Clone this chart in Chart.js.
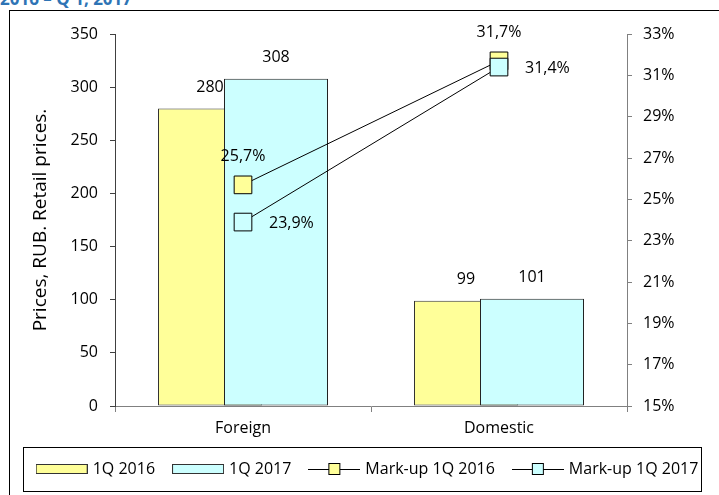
<!DOCTYPE html>
<html>
<head>
<meta charset="utf-8">
<script src="https://cdn.jsdelivr.net/npm/chart.js@4/dist/chart.umd.min.js"></script>
<style>
  body { margin: 0; width: 719px; height: 495px; overflow: hidden; background: #fff; }
  #title { position: absolute; left: 0; top: -11px; font: bold 17px 'Open Sans'; line-height: 20px; color: #2e74b5; white-space: nowrap; }
  #frame { position: absolute; left: 9px; top: 10px; width: 760px; height: 520px; border: 1px solid #000; }
  #wrap { position: absolute; left: 0; top: 0; width: 719px; height: 495px; }
</style>
</head>
<body>
<div id="title">2016 – Q 1, 2017</div>
<div id="frame"></div>
<div id="wrap"><canvas id="chart"></canvas></div>
<script>
const categories = ['Foreign', 'Domestic'];
const prices2016 = [280, 99];
const prices2017 = [308, 101];
const markup2016 = [25.7, 31.7];
const markup2017 = [23.9, 31.4];

const priceMin = 0, priceMax = 350, priceStep = 50;
const markupMin = 15, markupMax = 33, markupStep = 2;

const yellow = '#ffff99';
const cyan = '#ccffff';

Chart.defaults.font.family = "'Open Sans'";
Chart.defaults.font.size = 16;
Chart.defaults.color = '#000';

// legend pictures
function barSymbol(fill) {
    let c = document.createElement('canvas');
    c.width = 52; c.height = 10;
    let ctx = c.getContext('2d');
    ctx.fillStyle = fill;
    ctx.fillRect(0.5, 0.5, 51, 9);
    ctx.strokeStyle = '#333';
    ctx.lineWidth = 1;
    ctx.strokeRect(0.5, 0.5, 51, 9);
    return c;
}

function lineSymbol(fill) {
    let c = document.createElement('canvas');
    c.width = 52; c.height = 14;
    let ctx = c.getContext('2d');
    ctx.strokeStyle = '#000';
    ctx.lineWidth = 1;
    ctx.beginPath();
    ctx.moveTo(0, 7.5);
    ctx.lineTo(52, 7.5);
    ctx.stroke();
    ctx.fillStyle = fill;
    ctx.fillRect(20.5, 1.5, 11, 11);
    ctx.strokeRect(20.5, 1.5, 11, 11);
    return c;
}

const symbols = [barSymbol(yellow), barSymbol(cyan), lineSymbol(yellow), lineSymbol(cyan)];

// draw yellow bars under cyan bars while keeping yellow on the left
const barOrder = {
    id: 'barOrder',
    beforeDatasetDraw(chart, args) {
        if (args.index === 0) return false;
        if (args.index === 1) chart.getDatasetMeta(0).controller.draw();
    }
};

const valueLabels = {
    id: 'valueLabels',
    afterDatasetsDraw(chart) {
        let ctx = chart.ctx;
        ctx.save();
        ctx.font = "16px 'Open Sans'";
        ctx.fillStyle = '#000';
        ctx.textBaseline = 'middle';
        chart.data.datasets.forEach((ds, i) => {
            let meta = chart.getDatasetMeta(i);
            meta.data.forEach((el, j) => {
                let v = ds.data[j];
                let text = ds.type === 'line' ? v.toFixed(1).replace('.', ',') + '%' : String(v);
                if (ds.labelPos === 'right') {
                    ctx.textAlign = 'left';
                    ctx.fillText(text, el.x + 26, el.y + 1);
                } else if (ds.type === 'line') {
                    ctx.textAlign = 'center';
                    ctx.fillText(text, el.x, el.y - 28);
                } else {
                    ctx.textAlign = 'center';
                    ctx.fillText(text, el.x, el.y - 21);
                }
            });
        });
        ctx.restore();
    }
};

const legendBox = {
    id: 'legendBox',
    afterDraw(chart) {
        let boxes = chart.legend.legendHitBoxes;
        if (!boxes.length) return;
        let cy = boxes[0].top + boxes[0].height / 2;
        let ctx = chart.ctx;
        ctx.save();
        ctx.strokeStyle = '#000';
        ctx.lineWidth = 1;
        ctx.strokeRect(23.5, Math.round(cy) - 21.5, 678, 44);
        ctx.restore();
    }
};

new Chart(document.getElementById('chart'), {
    type: 'bar',
    data: {
        labels: categories,
        datasets: [{
            type: 'bar',
            label: '1Q 2016',
            data: prices2016,
            yAxisID: 'y',
            backgroundColor: yellow,
            borderColor: '#333',
            borderWidth: 1,
            borderSkipped: false,
            order: 2
        }, {
            type: 'bar',
            label: '1Q 2017',
            data: prices2017,
            yAxisID: 'y',
            backgroundColor: cyan,
            borderColor: '#222',
            borderWidth: 1,
            borderSkipped: false,
            order: 2
        }, {
            type: 'line',
            label: 'Mark-up 1Q 2016',
            data: markup2016,
            yAxisID: 'y1',
            borderColor: '#000',
            borderWidth: 1,
            pointStyle: 'rect',
            pointRadius: 12.5,
            pointHoverRadius: 12.5,
            pointBackgroundColor: yellow,
            pointBorderColor: '#000',
            pointBorderWidth: 1,
            labelPos: 'top',
            order: 1
        }, {
            type: 'line',
            label: 'Mark-up 1Q 2017',
            data: markup2017,
            yAxisID: 'y1',
            borderColor: '#000',
            borderWidth: 1,
            pointStyle: 'rect',
            pointRadius: 12.5,
            pointHoverRadius: 12.5,
            pointBackgroundColor: cyan,
            pointBorderColor: '#000',
            pointBorderWidth: 1,
            labelPos: 'right',
            order: 0
        }]
    },
    options: {
        responsive: true,
        maintainAspectRatio: false,
        animation: false,
        categoryPercentage: 0.5156,
        barPercentage: 1.576,
        layout: { padding: { top: 34, bottom: 8, left: 18, right: 0 } },
        plugins: {
            tooltip: { enabled: false },
            legend: {
                position: 'bottom',
                labels: {
                    usePointStyle: true,
                    pointStyleWidth: 46,
                    boxHeight: 14,
                    padding: 20,
                    font: { size: 16 },
                    generateLabels: chart => chart.data.datasets.map((ds, i) => ({
                        text: ds.label,
                        pointStyle: symbols[i],
                        datasetIndex: i,
                        hidden: false,
                        lineWidth: 0,
                        fillStyle: 'transparent',
                        strokeStyle: 'transparent',
                        fontColor: '#000'
                    }))
                }
            }
        },
        scales: {
            x: {
                offset: true,
                grid: { offset: true, drawOnChartArea: false, tickLength: 6, color: '#808080' },
                border: { color: '#808080' },
                ticks: { padding: 7 },
                afterFit(s) { s.height = 35; }
            },
            y: {
                position: 'left',
                min: priceMin,
                max: priceMax,
                ticks: { stepSize: priceStep, padding: 12 },
                grid: { drawOnChartArea: false, tickLength: 5, color: '#404040' },
                border: { color: '#404040' },
                title: { display: true, text: 'Prices, RUB. Retail prices.', font: { size: 19 }, padding: { top: 11, bottom: 0 } },
                afterFit(s) { s.width = 97; }
            },
            y1: {
                position: 'right',
                min: markupMin,
                max: markupMax,
                ticks: { stepSize: markupStep, padding: 11, callback: v => v + '%' },
                grid: { drawOnChartArea: false, tickLength: 5, color: '#808080' },
                border: { color: '#808080' },
                afterFit(s) { s.width = 92; }
            }
        }
    },
    plugins: [barOrder, valueLabels, legendBox]
});
</script>
</body>
</html>
